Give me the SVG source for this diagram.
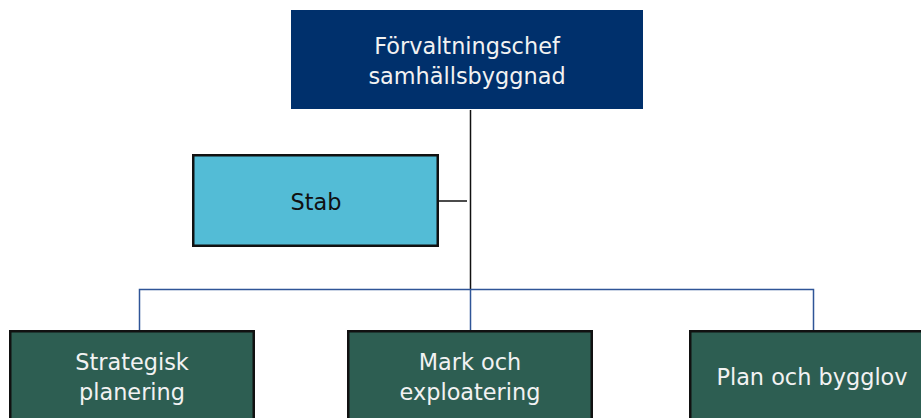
<svg xmlns="http://www.w3.org/2000/svg" width="921" height="418" viewBox="0 0 921 418">
<style>
text{font-family:"DejaVu Sans","Liberation Sans",sans-serif;font-size:22.4px;text-anchor:middle}
.light{fill:#F2F2F2}
.dark{fill:#111111}
.unit{fill:#2D5E52;stroke:#111;stroke-width:2.5}
.bus{stroke:#2F5597;stroke-width:1.5;fill:none}
.trunk{stroke:#111;stroke-width:1.5;fill:none}
</style>
<rect width="921" height="418" fill="#fff"/>
<g id="connectors">
<path class="trunk" d="M470.5 110 V289.5 M438 201 H467"/>
<path class="bus" d="M139.5 331 V289.5 H813.5 V331 M470.5 289.5 V331"/>
</g>
<g id="chef">
<rect x="291" y="10" width="352" height="99" fill="#00306C"/>
<text class="light" x="467" y="54">Förvaltningschef</text>
<text class="light" x="467" y="84">samhällsbyggnad</text>
</g>
<g id="stab">
<rect x="193.25" y="155.25" width="244.5" height="90.5" fill="#53BCD6" stroke="#111" stroke-width="2.5"/>
<text class="dark" x="316" y="210">Stab</text>
</g>
<g id="strategisk">
<rect class="unit" x="10.25" y="331.25" width="243.5" height="100"/>
<text class="light" x="132" y="370">Strategisk</text>
<text class="light" x="132" y="400">planering</text>
</g>
<g id="mark">
<rect class="unit" x="348.25" y="331.25" width="243.5" height="100"/>
<text class="light" x="470" y="370">Mark och</text>
<text class="light" x="470" y="400">exploatering</text>
</g>
<g id="plan">
<rect class="unit" x="690.25" y="331.25" width="243.5" height="100"/>
<text class="light" x="812" y="385">Plan och bygglov</text>
</g>
</svg>
